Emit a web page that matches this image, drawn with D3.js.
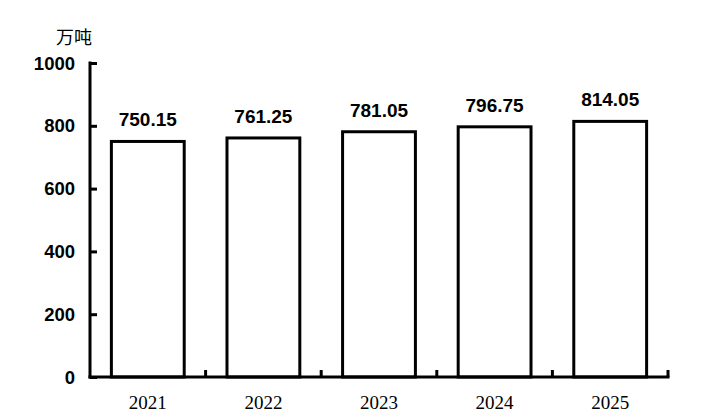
<!DOCTYPE html>
<html><head><meta charset="utf-8">
<script src="https://cdn.jsdelivr.net/npm/d3@7"></script>
<style>body{margin:0;background:#fff}</style>
</head><body>
<svg id="c" width="704" height="420"></svg>
<script>
const categories = ["2021","2022","2023","2024","2025"];
const values = [750.15, 761.25, 781.05, 796.75, 814.05];
const valueLabels = ["750.15","761.25","781.05","796.75","814.05"];
const yTicks = [0,200,400,600,800,1000];
const unitLabel = "万吨";

(function(){
const svg = d3.select("#c");
const mL = 90, mR = 668, mT = 63, mB = 377;
const x = d3.scaleBand().domain(categories).range([mL, mR]).paddingInner(0.37).paddingOuter(0.185);
const xb = d3.scaleBand().domain(categories).range([mL, mR]);
const y = d3.scaleLinear().domain([0,1000]).range([mB, mT]);

// bars
svg.selectAll("rect.bar").data(values).enter().append("rect")
  .attr("x", (d,i)=>x(categories[i]))
  .attr("y", d=>y(d))
  .attr("width", x.bandwidth())
  .attr("height", d=>mB - y(d))
  .attr("fill","#fff").attr("stroke","#000").attr("stroke-width",3);

// value labels
svg.selectAll("text.val").data(values).enter().append("text")
  .attr("x",(d,i)=>x(categories[i])+x.bandwidth()/2)
  .attr("y", d=>y(d)-15)
  .attr("text-anchor","middle")
  .attr("font-family","Liberation Sans, Arial, sans-serif")
  .attr("font-weight","bold").attr("font-size",19)
  .text((d,i)=>valueLabels[i]);

// y axis
const yAxis = d3.axisRight(y).tickValues(yTicks).tickSize(7).tickFormat("");
const ga = svg.append("g").attr("transform",`translate(${mL},0)`).call(yAxis);
ga.select(".domain").remove();
ga.selectAll(".tick line").attr("stroke","#000").attr("stroke-width",3);
svg.append("line").attr("x1",mL).attr("x2",mL).attr("y1",mT-1.5).attr("y2",mB+1.5)
  .attr("stroke","#000").attr("stroke-width",3);
svg.selectAll("text.yt").data(yTicks).enter().append("text")
  .attr("x", 75).attr("y", d=>y(d)+6.5)
  .attr("text-anchor","end")
  .attr("font-family","Liberation Sans, Arial, sans-serif")
  .attr("font-weight","bold").attr("font-size",18.5)
  .text(d=>d);

// x axis
svg.append("line").attr("x1",mL-1.5).attr("x2",mR+1.5).attr("y1",mB).attr("y2",mB)
  .attr("stroke","#000").attr("stroke-width",3);
svg.selectAll("line.xt").data(categories).enter().append("line")
  .attr("x1",d=>xb(d)+xb.bandwidth())
  .attr("x2",d=>xb(d)+xb.bandwidth())
  .attr("y1",mB).attr("y2",mB-7)
  .attr("stroke","#000").attr("stroke-width",3);
svg.selectAll("text.xl").data(categories).enter().append("text")
  .attr("x", d=>xb(d)+xb.bandwidth()/2)
  .attr("y", 409)
  .attr("text-anchor","middle")
  .attr("font-family","Liberation Serif, Times New Roman, serif")
  .attr("font-size",19)
  .text(d=>d);

// unit
svg.append("text").attr("x",74).attr("y",44).attr("text-anchor","middle")
  .attr("font-family","Noto Sans CJK SC, sans-serif").attr("font-size",18)
  .text(unitLabel);
})();
</script>
</body></html>
